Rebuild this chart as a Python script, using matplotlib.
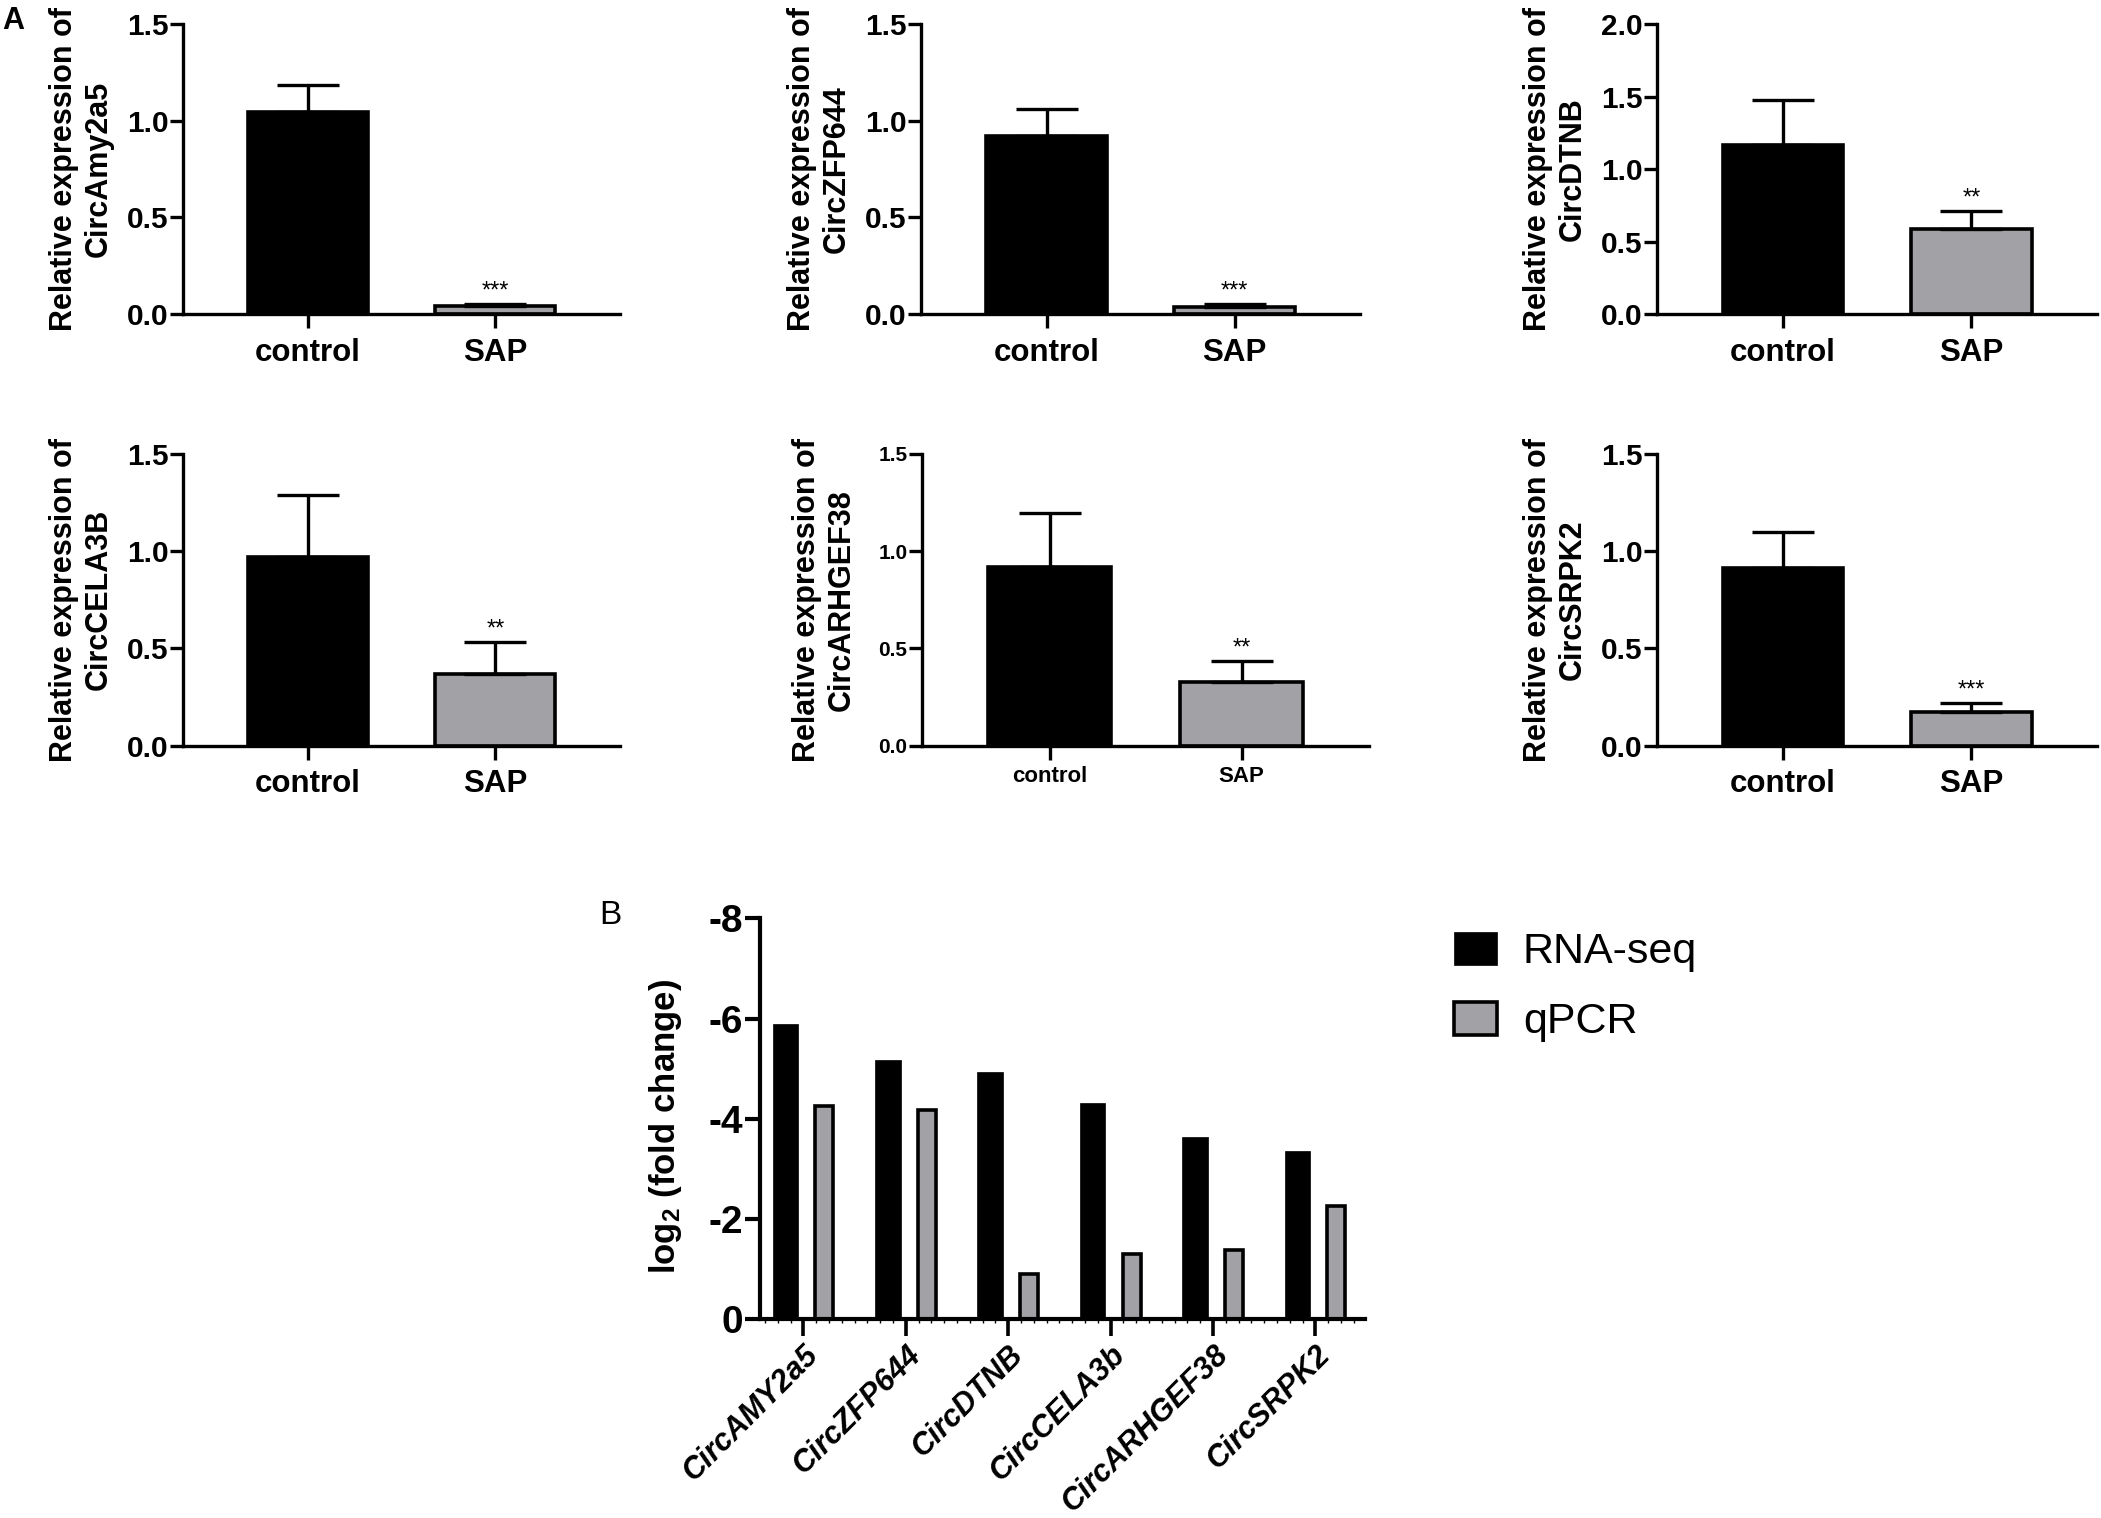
import matplotlib
matplotlib.use("Agg")
import matplotlib.pyplot as plt
import numpy as np
from matplotlib.ticker import MultipleLocator

plt.rcParams['font.family'] = ['Liberation Sans', 'DejaVu Sans']
plt.rcParams['axes.unicode_minus'] = False
plt.rcParams['mathtext.fontset'] = 'custom'
plt.rcParams['mathtext.rm'] = 'Liberation Sans:bold'
plt.rcParams['mathtext.default'] = 'rm'

# ---------------- data: panel A ----------------
groups = ['control', 'SAP']
genes_A = ['CircAmy2a5', 'CircZFP644', 'CircDTNB', 'CircCELA3B', 'CircARHGEF38', 'CircSRPK2']
control_mean = [1.045, 0.921, 1.164, 0.970, 0.918, 0.911]
control_err = [0.138, 0.140, 0.312, 0.319, 0.275, 0.187]
sap_mean = [0.040, 0.036, 0.586, 0.367, 0.328, 0.172]
sap_err = [0.013, 0.016, 0.126, 0.165, 0.108, 0.046]
signif = ['***', '***', '**', '**', '**', '***']
y_max = [1.5, 1.5, 2.0, 1.5, 1.5, 1.5]

# ---------------- data: panel B ----------------
genes_B = ['CircAMY2a5', 'CircZFP644', 'CircDTNB', 'CircCELA3b', 'CircARHGEF38', 'CircSRPK2']
rnaseq = [-5.89, -5.17, -4.93, -4.31, -3.64, -3.35]
qpcr = [-4.26, -4.17, -0.91, -1.31, -1.39, -2.26]
series_names = ['RNA-seq', 'qPCR']

BLACK = '#000000'
GRAY = '#a2a2a6'

fig = plt.figure(figsize=(21.01, 15.18), dpi=100)

# axes rectangles (figure fractions)
rects = [
    [0.0871, 0.7931, 0.2082, 0.1910],
    [0.4384, 0.7931, 0.2089, 0.1910],
    [0.7889, 0.7931, 0.2092, 0.1910],
    [0.0871, 0.5088, 0.2082, 0.1923],
    [0.4388, 0.5088, 0.2130, 0.1923],
    [0.7889, 0.5088, 0.2092, 0.1923],
]

for i in range(6):
    ax = fig.add_axes(rects[i])
    small = (i == 4)
    x = np.arange(len(groups))
    means = [control_mean[i], sap_mean[i]]
    errs = [control_err[i], sap_err[i]]
    ax.bar(x, means, width=0.64, color=[BLACK, GRAY], edgecolor=BLACK,
           linewidth=2.6, zorder=2)
    ax.errorbar(x, means, yerr=[[0, 0], errs], fmt='none', ecolor=BLACK,
                elinewidth=2.4, capsize=22, capthick=2.4, zorder=3)
    ax.annotate(signif[i], xy=(1, sap_mean[i] + sap_err[i]), xytext=(0, 1),
                textcoords='offset points', ha='center', va='bottom',
                fontsize=17)
    ax.set_xlim(-0.667, 1.667)
    ax.set_ylim(0, y_max[i])
    ax.set_yticks(np.arange(0, y_max[i] + 0.01, 0.5))
    ax.set_xticks(x)
    ax.set_xticklabels(groups)
    for s in ['top', 'right']:
        ax.spines[s].set_visible(False)
    for s in ['left', 'bottom']:
        ax.spines[s].set_linewidth(2.4)
    ax.tick_params(axis='y', length=9.5, width=2.4, pad=1,
                   labelsize=15 if small else 21.5)
    ax.tick_params(axis='x', length=10, width=2.4, pad=5 if small else 7,
                   labelsize=16 if small else 22.5)
    for lab in ax.get_xticklabels() + ax.get_yticklabels():
        lab.set_fontweight('bold')
    ax.set_ylabel('Relative expression of\n' + genes_A[i], fontsize=22,
                  fontweight='bold', linespacing=1.2)
    ax.yaxis.set_label_coords(-0.145 if small else -0.158, 0.5)

fig.text(0.001, 0.996, 'A', fontsize=22, fontweight='bold', ha='left', va='top')

# ---------------- panel B ----------------
axb = fig.add_axes([0.3617, 0.1310, 0.2880, 0.2640])
xb = np.arange(len(genes_B))
b1 = axb.bar(xb - 0.175, rnaseq, width=0.25, color=BLACK, edgecolor=BLACK,
             linewidth=0.5, label=series_names[0], zorder=2)
b2 = axb.bar(xb + 0.205, qpcr, width=0.175, color=GRAY, edgecolor=BLACK,
             linewidth=2.6, label=series_names[1], zorder=2)
axb.set_ylim(0, -8)
axb.set_yticks([0, -2, -4, -6, -8])
axb.set_xlim(-0.424, 5.484)
axb.set_xticks(xb)
axb.set_xticklabels(genes_B, rotation=45, ha='right', rotation_mode='anchor',
                    fontweight='bold', fontstyle='italic', fontsize=22)
axb.xaxis.set_minor_locator(MultipleLocator(0.125))
for s in ['top', 'right']:
    axb.spines[s].set_visible(False)
for s in ['left', 'bottom']:
    axb.spines[s].set_linewidth(3)
axb.tick_params(axis='y', length=11, width=3, pad=1, labelsize=28)
axb.tick_params(axis='x', which='major', length=12, width=2.6, pad=3)
axb.tick_params(axis='x', which='minor', length=3, width=1.0)
for lab in axb.get_yticklabels():
    lab.set_fontweight('bold')
axb.set_ylabel('log$_2$ (fold change)', fontsize=25, fontweight='bold')
axb.yaxis.set_label_coords(-0.125, 0.48)

fig.legend(handles=[b1, b2], labels=series_names, loc='upper left',
           bbox_to_anchor=(0.692, 0.386), frameon=False, fontsize=31,
           handlelength=1.0, handleheight=0.8, handletextpad=0.6,
           labelspacing=0.68, borderaxespad=0, borderpad=0)

fig.text(0.2852, 0.407, 'B', fontsize=24, ha='left', va='top')

fig.savefig('out.png', dpi=100)
